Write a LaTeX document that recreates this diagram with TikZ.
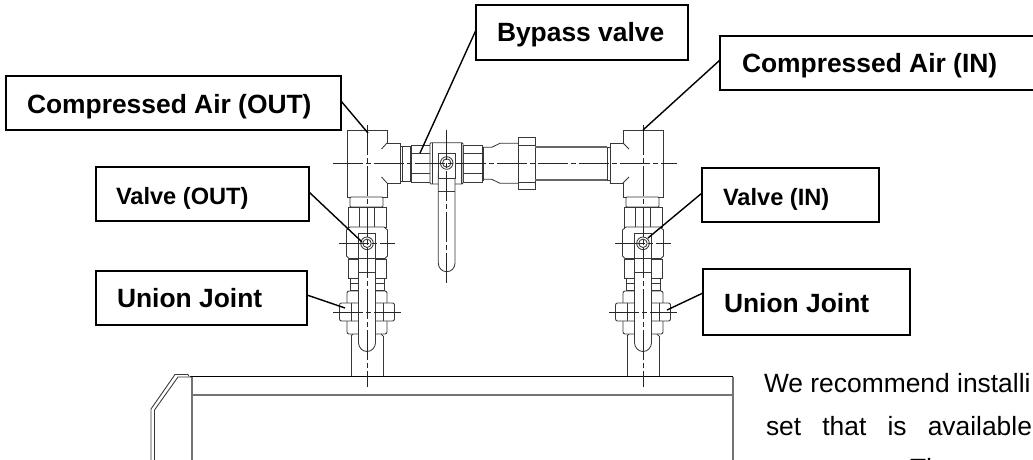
\documentclass[tikz,border=0pt]{standalone}
\usepackage{fontspec}
\setmainfont{Liberation Sans}
\newcommand{\boxlabel}[2]{\makebox[#1pt][l]{#2}}
\tikzset{
  lblbox/.style={draw=black,line width=1.7pt,fill=white,inner sep=0pt,outer sep=0pt,anchor=base west,font=\fontsize{26.4}{30}\selectfont\bfseries},
  smalllbl/.style={lblbox,font=\fontsize{23.6}{28}\selectfont\bfseries},
  bodytxt/.style={inner sep=0pt,outer sep=0pt,anchor=base west,font=\fontsize{26.4}{30}\selectfont},
  leader/.style={draw=black,line width=1.4pt},
  dw/.style={draw=black!78,line width=0.85pt},
  dwf/.style={dw,fill=white},
  pipe/.style={draw=black!60,line width=1.2pt},
  ctr/.style={draw=black!85,line width=0.7pt,dash pattern=on 30pt off 3pt on 5pt off 3pt},
  gline/.style={draw=black!55,line width=1.1pt},
}
% column below a tee: valve, hex nuts, union joint; origin x on the centre line
\newcommand{\valvestack}{%
  \draw[dwf,rounded corners=1pt] (-17,197) rectangle (16,207);
  \draw[dwf] (-19,207) rectangle (19,227);
  \draw[dw] (-7.5,207) -- (-7.5,227) (7.5,207) -- (7.5,227);
  \draw[dwf] (-20.5,230) -- (-17,227) -- (17,227) -- (20.5,230) -- (20.5,256) -- (18,258.5) -- (-18,258.5) -- (-20.5,256) -- cycle;
  \draw[dwf] (-19,259) rectangle (19,278);
  \draw[dwf] (-17,278) rectangle (17,290);
  \draw[dw] (-17,283) -- (17,283);
  \draw[dw] (-16,336) -- (-16,376) (16,336) -- (16,376);
  \draw[dw] (-16,336) -- (-14,334) (16,336) -- (14,334);
  \draw[dwf,rounded corners=2pt] (-20,291) rectangle (20,334);
  \draw[dwf,rounded corners=2pt] (-27.5,303) rectangle (27.5,321);
  \draw[dw] (-16,303) -- (-16,321) (16,303) -- (16,321);
  % handle
  \draw[dwf] (-8.5,258) -- (-8.5,342.5) .. controls (-8.5,347.5) and (-4.7,351.5) .. (0,351.5) .. controls (4.7,351.5) and (8.5,347.5) .. (8.5,342.5) -- (8.5,258) -- cycle;
  \draw[dwf] (-8.5,233) rectangle (8.5,258);
  \draw[dw] (-8.5,272) -- (8.5,272);
  \draw[dw] (0,243.3) circle[radius=6.3pt];
  \draw[dw] (0,243.3) circle[radius=4.2pt];
  \draw[ctr] (-28,243.3) -- (28,243.3);
  \draw[ctr] (-34,312.3) -- (34,312.3);
  \draw[ctr] (0,125) -- (0,387);
}
\begin{document}
\begin{tikzpicture}[x=1pt,y=-1pt]
\useasboundingbox (0,0) rectangle (1033,460);
\clip (0,0) rectangle (1033,460);
\fill[white] (0,0) rectangle (1033,460);

% base unit
\draw[draw=black,line width=1pt] (190,376.5) -- (733,376.5);
\draw[gline] (192,395) -- (733,395);
\draw[gline] (192,376.5) -- (192,460);
\draw[gline] (733,376.5) -- (733,460);
\draw[dw] (151,460) -- (151,409) -- (175,374.5) -- (188,374.5) -- (189,376.5);
\draw[dw] (154.5,460) -- (154.5,410) -- (178,377) -- (192,377);

% bypass pipe
\draw[dw] (483,147.3) -- (491.7,147.3) -- (500,143.3) -- (518,143.3);
\draw[dw] (483,179.3) -- (491.7,179.3) -- (500,183.3) -- (518,183.3);
\draw[dwf] (518,137) rectangle (535,189.3);
\draw[dw] (518,145) -- (535,145) (518,182) -- (535,182);
\draw[pipe] (535,147) -- (607,147) (535,180) -- (607,180);
\draw[dwf] (607,147) rectangle (610,180);

% left tee
\draw[dwf] (347,130) -- (387,130) -- (387,143) -- (400,143) -- (400,183) -- (387,183) -- (387,197) -- (347,197) -- cycle;
\draw[dw] (387,143) -- (381.5,149) (387,183) -- (381.5,177);
% right tee
\draw[dwf] (663,130) -- (623,130) -- (623,143) -- (610,143) -- (610,183) -- (623,183) -- (623,197) -- (663,197) -- cycle;
\draw[dw] (623,143) -- (629,149) (623,183) -- (629,177);

% bypass valve
\draw[dwf] (400,146.5) rectangle (411,181);
\draw[dw] (402,146.5) -- (402,181) (410,146.5) -- (410,181);
\draw[dwf] (411.7,145) rectangle (430,182);
\draw[dw] (411.7,153) -- (430,153) (411.7,173) -- (430,173);
\draw[dwf] (463,145) rectangle (482,182);
\draw[dw] (463,153) -- (482,153) (463,173) -- (482,173);
\draw[dwf] (482,147) rectangle (483.3,180);
\draw[dwf,rounded corners=1pt] (430,142.7) rectangle (463,184);
\draw[dw] (432.7,142.7) -- (432.7,184) (461,142.7) -- (461,184);
\draw[dwf] (438.3,173) -- (438.3,263) .. controls (438.3,268) and (442,271.7) .. (446.7,271.7) .. controls (451.4,271.7) and (455,268) .. (455,263) -- (455,173) -- cycle;
\draw[dwf] (438.3,153) rectangle (455,178);
\draw[dw] (438.3,191.7) -- (455,191.7);
\draw[dw] (446.7,163) circle[radius=6.3pt];
\draw[dw] (446.7,163) circle[radius=4.2pt];
\draw[ctr] (333,163) -- (677,163);
\draw[ctr] (446.7,130) -- (446.7,285);

% valve columns
\begin{scope}[shift={(367,0)}]\valvestack\end{scope}
\begin{scope}[shift={(643,0)}]\valvestack\end{scope}

% labels
\node[lblbox,text height=37pt,text depth=17pt] (cout) at (6,113) {\boxlabel{335}{\hspace{21pt}Compressed Air (OUT)}};
\node[lblbox,text height=37pt,text depth=18pt] (byp) at (476,42) {\boxlabel{212}{\hspace{21pt}Bypass valve}};
\node[lblbox,text height=36pt,text depth=18pt] (cin) at (720,72) {\boxlabel{330}{\hspace{22pt}Compressed Air (IN)}};
\node[smalllbl,text height=37pt,text depth=17pt] (vout) at (96,204) {\boxlabel{213}{\hspace{20pt}Valve (OUT)}};
\node[smalllbl,text height=37pt,text depth=17pt] (vin) at (702,205) {\boxlabel{177}{\hspace{21pt}Valve (IN)}};
\node[lblbox,text height=36pt,text depth=18pt] (ujl) at (96,307) {\boxlabel{211}{\hspace{21pt}Union Joint}};
\node[lblbox,text height=43pt,text depth=23pt] (ujr) at (703,312) {\boxlabel{207}{\hspace{21pt}Union Joint}};

% leader ends
\coordinate (pcout) at (368,133);
\coordinate (pbyp) at (420,153);
\coordinate (pcin) at (643,130);
\coordinate (pvout) at (362,242);
\coordinate (pvin) at (648,238);
\coordinate (pujl) at (345,308);
\coordinate (pujr) at (667,310);
\draw[leader] ([yshift=2pt]cout.east) -- (pcout);
\draw[leader] ([yshift=2.5pt]byp.west) -- (pbyp);
\draw[leader] ([yshift=3pt]cin.west) -- (pcin);
\draw[leader] ([yshift=2pt]vout.east) -- (pvout);
\draw[leader] ([yshift=2pt]vin.west) -- (pvin);
\draw[leader] ([yshift=3pt]ujl.east) -- (pujl);
\draw[leader] ([yshift=9pt]ujr.west) -- (pujr);

% body text, cut by the edge of the picture
\node[bodytxt] (t1) at (764,392) {We recommend installi};
\node[bodytxt] (t2) at (766,435) {\makebox[266pt][s]{set that is available}};
\node[bodytxt] (t3) at (910,477) {The};
\end{tikzpicture}
\end{document}
